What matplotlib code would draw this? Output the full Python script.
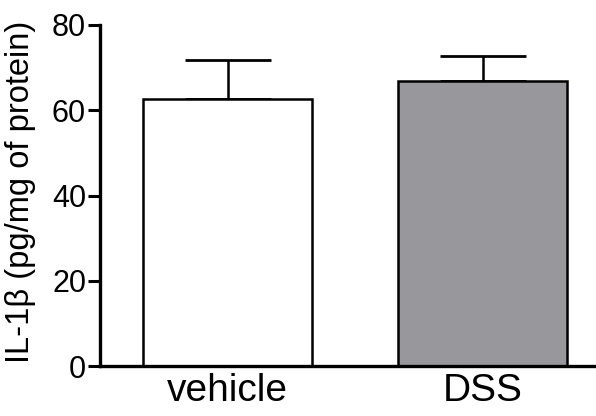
import numpy as np
import matplotlib.pyplot as plt

plt.rcParams['font.family'] = ['Liberation Sans', 'DejaVu Sans']

groups = ['vehicle', 'DSS']
means = [62.6, 66.9]
sem = [9.3, 5.8]
colors = ['white', '#98989c']

fig = plt.figure(figsize=(5.96, 4.16), dpi=100)
ax = fig.add_axes([100/596, 1 - 366/416, 496/596, 341/416])

x = np.arange(len(groups))
ax.bar(x, means, width=0.663, color=colors, edgecolor='black', linewidth=1.8, zorder=2)
ax.errorbar(x, means, yerr=[[0, 0], sem], fmt='none', ecolor='black',
            elinewidth=1.8, capsize=31, capthick=2.0, zorder=1)

ax.set_xlim(-0.5, 1.445)
ax.set_ylim(0, 80)
ax.set_yticks([0, 20, 40, 60, 80])
ax.set_xticks(x)
ax.set_xticklabels(groups, fontsize=28)
ax.tick_params(axis='x', length=0, pad=5)
ax.tick_params(axis='y', length=9, width=2.2, labelsize=22, pad=1)
ax.set_ylabel('IL-1β (pg/mg of protein)', fontsize=23.5)
ax.yaxis.set_label_coords(-0.13, 0.51)

for s in ['top', 'right']:
    ax.spines[s].set_visible(False)
for s in ['left', 'bottom']:
    ax.spines[s].set_linewidth(2.4)

fig.savefig('out.png', dpi=100)
